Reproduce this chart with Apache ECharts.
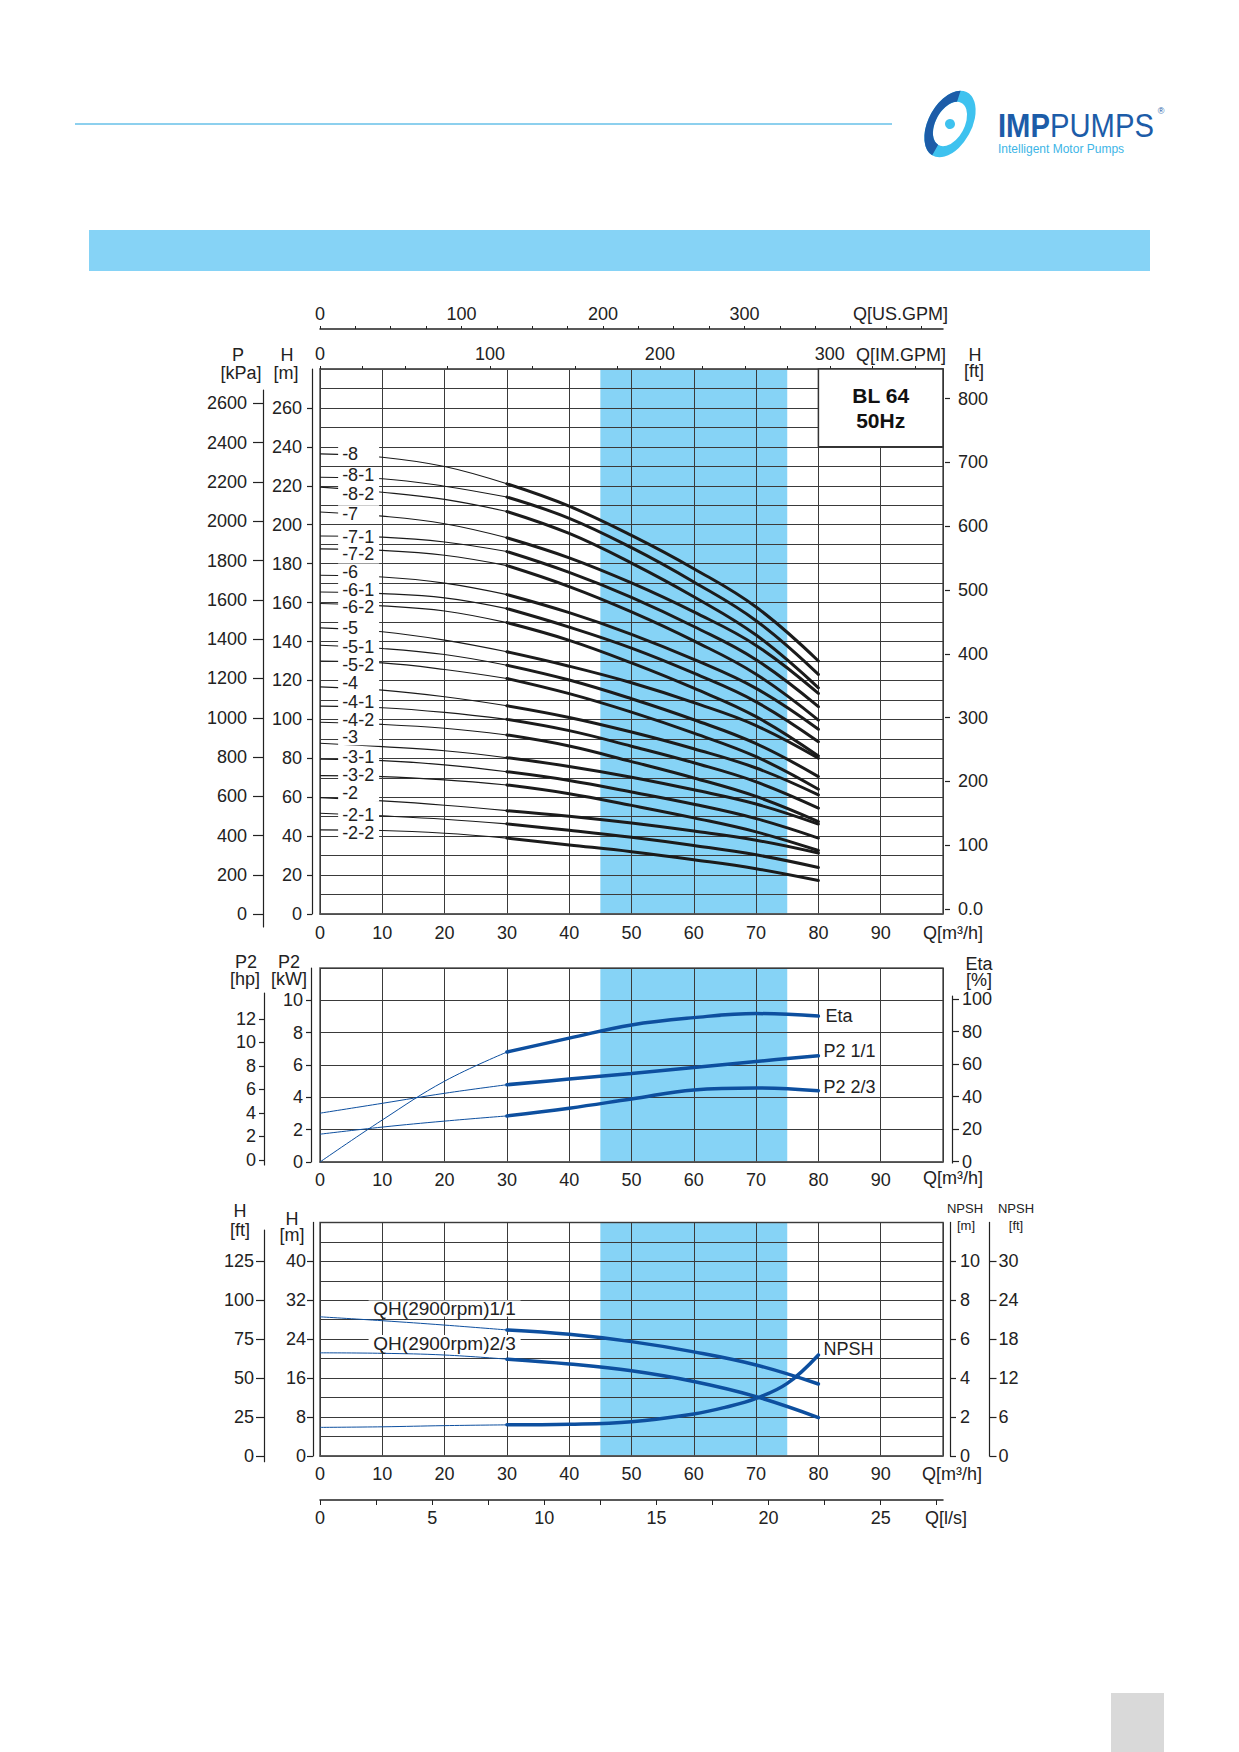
<!DOCTYPE html>
<html>
<head>
<meta charset="utf-8">
<title>BL 64 50Hz</title>
<script src="https://cdn.jsdelivr.net/npm/echarts@6/dist/echarts.min.js"></script>
<style>
html, body { margin: 0; padding: 0; background: #fff; }
#main { width: 1239px; height: 1752px; }
</style>
</head>
<body>
<div id="main"></div>
<script>
// flow points, m3/h
var qPoints = [0, 10, 20, 30, 40, 50, 60, 70, 80];
var qNpsh = [0, 10, 20, 30, 40, 50, 60, 65, 70, 75, 80];
var bandRange = [45, 75];

// head curves per model, m
var h8   = [236.4, 234.7, 229.9, 221.0, 209.5, 194.5, 177.4, 157.7, 130.0];
var h8_1 = [224.4, 223.6, 219.8, 214.2, 203.3, 188.2, 170.6, 150.7, 123.1];
var h8_2 = [219.3, 216.7, 213.0, 206.8, 195.5, 180.3, 163.0, 143.3, 116.2];
var h7   = [206.5, 204.4, 200.5, 193.3, 183.0, 170.1, 155.2, 138.0, 113.3];
var h7_1 = [194.2, 193.6, 191.1, 186.2, 175.5, 162.7, 147.7, 130.6, 106.5];
var h7_2 = [187.6, 186.8, 184.3, 179.0, 168.2, 155.2, 140.3, 123.2, 99.6];
var h6   = [174.0, 173.1, 170.0, 164.1, 154.8, 143.7, 130.8, 115.9, 94.9];
var h6_1 = [165.4, 164.6, 162.4, 156.9, 147.4, 136.6, 123.7, 109.0, 88.5];
var h6_2 = [159.5, 158.3, 155.7, 149.7, 140.6, 129.0, 116.0, 101.4, 81.2];
var h5   = [147.0, 145.0, 140.7, 134.7, 127.3, 118.8, 108.6, 96.8, 80.0];
var h5_1 = [138.1, 136.4, 133.3, 127.8, 120.2, 110.6, 99.8, 87.5, 70.6];
var h5_2 = [130.0, 129.0, 125.6, 121.0, 113.2, 103.7, 92.9, 80.8, 64.1];
var h4   = [116.7, 115.0, 111.6, 107.0, 101.0, 93.5, 84.9, 75.0, 61.2];
var h4_1 = [106.8, 106.0, 103.6, 100.0, 94.2, 86.2, 77.7, 67.9, 54.4];
var h4_2 = [98.5, 97.4, 95.4, 92.0, 86.3, 78.3, 69.9, 60.4, 47.5];
var h3   = [87.7, 86.0, 83.9, 80.3, 75.8, 70.3, 63.8, 56.5, 46.2];
var h3_1 = [79.5, 78.8, 76.6, 73.1, 68.6, 62.7, 56.4, 49.0, 39.0];
var h3_2 = [71.1, 70.6, 68.9, 66.3, 61.8, 55.8, 49.4, 42.2, 32.6];
var h2   = [59.8, 58.1, 55.9, 53.1, 50.2, 46.7, 42.6, 37.9, 31.3];
var h2_1 = [51.8, 50.4, 48.7, 46.3, 43.0, 39.4, 35.2, 30.4, 23.9];
var h2_2 = [43.2, 42.9, 41.5, 39.0, 35.5, 32.0, 27.9, 23.3, 17.2];

var stageNames = ['-8', '-8-1', '-8-2', '-7', '-7-1', '-7-2', '-6', '-6-1', '-6-2',
  '-5', '-5-1', '-5-2', '-4', '-4-1', '-4-2', '-3', '-3-1', '-3-2', '-2', '-2-1', '-2-2'];
var stageCurves = [h8, h8_1, h8_2, h7, h7_1, h7_2, h6, h6_1, h6_2,
  h5, h5_1, h5_2, h4, h4_1, h4_2, h3, h3_1, h3_2, h2, h2_1, h2_2];
// where each model tag sits on the H axis
var labelQ = 6.2;
var stageLabelH = [236.4, 225.3, 215.9, 205.6, 193.6, 185.1, 175.7, 166.7, 157.7,
  146.7, 137.2, 127.8, 118.5, 109.0, 99.6, 91.1, 80.8, 71.4, 62.1, 50.9, 41.5];

// power and efficiency
var eta = [0, 26, 50, 68, 76.6, 84.8, 89.3, 91.8, 90.3];
var p2Full = [3.02, 3.63, 4.25, 4.78, 5.13, 5.48, 5.85, 6.22, 6.57];
var p2TwoThird = [1.72, 2.16, 2.53, 2.85, 3.33, 3.9, 4.46, 4.58, 4.41];

// single stage head and NPSH
var qh11 = [28.6, 27.8, 26.9, 25.9, 25.0, 23.5, 21.4, 18.7, 14.8];
var qh23 = [21.2, 21.1, 20.75, 19.9, 18.9, 17.5, 15.3, 12.2, 7.9];
var npsh = [1.47, 1.5, 1.56, 1.6, 1.63, 1.76, 2.16, 2.5, 2.96, 3.73, 5.19];
var qhNames = ['QH(2900rpm)1/1', 'QH(2900rpm)2/3'];
var qhLabelAt = 2;

// tick values
var imTicks = [0, 25, 50, 75, 100, 125, 150, 175, 200, 225, 250, 275, 300, 325, 350];
var usTicks = [0, 25, 50, 75, 100, 125, 150, 175, 200, 225, 250, 275, 300, 325, 350, 375, 400, 425];
var gpmLabels = [0, 100, 200, 300];
var lsTicks = [0, 2.5, 5, 7.5, 10, 12.5, 15, 17.5, 20, 22.5, 25, 27.5];
var lsLabels = [0, 5, 10, 15, 20, 25];
var hTicks = [0, 20, 40, 60, 80, 100, 120, 140, 160, 180, 200, 220, 240, 260];
var kpaTicks = [0, 200, 400, 600, 800, 1000, 1200, 1400, 1600, 1800, 2000, 2200, 2400, 2600];
var ftTicks = [0, 100, 200, 300, 400, 500, 600, 700, 800];
var kwTicks = [0, 2, 4, 6, 8, 10];
var hpTicks = [0, 2, 4, 6, 8, 10, 12];
var etaTicks = [0, 20, 40, 60, 80, 100];
var hmTicks = [0, 8, 16, 24, 32, 40];
var hftTicks = [0, 25, 50, 75, 100, 125];
var npshMTicks = [0, 2, 4, 6, 8, 10];
var npshFtTicks = [0, 6, 12, 18, 24, 30];

var FONT = '"Liberation Sans", Arial, Helvetica, sans-serif';
var INK = '#222';
var GRIDLINE = '#3a3a3a';
var FRAME = '#555';
var BAND = '#86D3F6';
var BLACK = '#1b1b1b';
var BLUE = '#0d4f9f';

function pts(xs, ys, from, to) {
  var out = [];
  for (var i = from; i < to; i++) out.push([xs[i], ys[i]]);
  return out;
}

function curvePair(xs, ys, xi, yi, color, thinW, thickW) {
  var base = {
    type: 'line', xAxisIndex: xi, yAxisIndex: yi, smooth: 0.4,
    symbol: 'none', showSymbol: false, silent: true, animation: false, z: 3
  };
  var thin = Object.assign({}, base, { data: pts(xs, ys, 0, 4), lineStyle: { color: color, width: thinW } });
  var thick = Object.assign({}, base, { data: pts(xs, ys, 3, ys.length), lineStyle: { color: color, width: thickW, cap: 'round' } });
  return [thin, thick];
}

function band(xi, yi) {
  return {
    type: 'line', xAxisIndex: xi, yAxisIndex: yi, data: [], silent: true, z: 1,
    markArea: { silent: true, z: 1, itemStyle: { color: BAND }, data: [[{ xAxis: bandRange[0] }, { xAxis: bandRange[1] }]] }
  };
}

function label(extra) {
  return Object.assign({ fontSize: 18, color: INK, fontFamily: FONT }, extra || {});
}

function plain(v) { return String(v); }

function hiddenX(g) { return { gridIndex: g, type: 'value', show: false, min: 0, max: 1 }; }

function mainX(g, margin) {
  return {
    gridIndex: g, type: 'value', min: 0, max: 100, interval: 10, position: 'bottom', z: 2,
    axisLine: { show: true, onZero: false, lineStyle: { color: FRAME, width: 1.5 } },
    axisTick: { show: false },
    axisLabel: label({ margin: margin, formatter: function (v) { return v < 100 ? String(v) : ''; } }),
    splitLine: { show: true, lineStyle: { color: GRIDLINE, width: 1 } }
  };
}

function extraX(g, pos, offset, max, ticks, labels, tickLen, margin, color) {
  return {
    gridIndex: g, type: 'value', position: pos, offset: offset, min: 0, max: max, z: 2,
    axisLine: { show: true, onZero: false, lineStyle: { color: color, width: 1.5 } },
    axisTick: { show: true, length: tickLen, customValues: ticks, lineStyle: { color: INK } },
    axisLabel: label({ margin: margin, customValues: labels, formatter: plain }),
    splitLine: { show: false }
  };
}

function sideY(g, pos, offset, min, max, ticks, tickLen, margin, fmt, lineColor) {
  return {
    gridIndex: g, type: 'value', position: pos, offset: offset, min: min, max: max,
    axisLine: { show: true, onZero: false, lineStyle: { color: lineColor || INK, width: 1.2 } },
    axisTick: { show: true, length: tickLen, customValues: ticks, lineStyle: { color: INK, width: 1.2 } },
    axisLabel: label({ margin: margin, customValues: ticks, formatter: fmt || plain }),
    splitLine: { show: false }
  };
}

function gridY(g, max, step) {
  return {
    gridIndex: g, type: 'value', min: 0, max: max, interval: step, z: 2,
    axisLine: { show: false }, axisTick: { show: false }, axisLabel: { show: false },
    splitLine: { show: true, lineStyle: { color: GRIDLINE, width: 1 } }
  };
}

// white tag box drawn as a rect symbol, text on top of it
function tagSeries(xi, yi, data, boxSize, pos, fontSize) {
  return {
    type: 'scatter', xAxisIndex: xi, yAxisIndex: yi, silent: true, z: 10, animation: false,
    symbol: 'rect', symbolSize: boxSize,
    itemStyle: { color: '#fff', opacity: 1 },
    data: data,
    label: {
      show: true, position: pos, distance: 4, formatter: '{b}', lineHeight: 17,
      color: INK, fontSize: fontSize, fontFamily: FONT, textBorderWidth: 0, opacity: 1
    }
  };
}

var series = [];

// head chart
series.push(band(0, 0));
series.push({
  type: 'line', xAxisIndex: 0, yAxisIndex: 0, data: [], silent: true, z: 4,
  markArea: {
    silent: true, z: 4,
    itemStyle: { color: '#fff', borderColor: '#333', borderWidth: 1.5 },
    label: { show: true, position: 'inside', formatter: 'BL 64\n50Hz', fontSize: 21, fontWeight: 'bold', lineHeight: 25, color: '#111', fontFamily: FONT },
    data: [[{ xAxis: 80, yAxis: 240 }, { xAxis: 100, yAxis: 280 }]]
  }
});
stageCurves.forEach(function (ys) {
  series = series.concat(curvePair(qPoints, ys, 0, 0, BLACK, 1.1, 3));
});
series.push(tagSeries(0, 0,
  stageNames.map(function (n, i) { return { name: n, value: [labelQ, stageLabelH[i]] }; }),
  [41, 17], 'insideLeft', 18));

// power chart
series.push(band(4, 4));
var etaPair = curvePair(qPoints, eta, 4, 6, BLUE, 1, 3.5);
etaPair[1].endLabel = label({ show: true, formatter: 'Eta', distance: 7 });
var p2fPair = curvePair(qPoints, p2Full, 4, 4, BLUE, 1, 3.5);
p2fPair[1].endLabel = label({ show: true, formatter: 'P2 1/1', distance: 5, offset: [0, -5] });
var p2tPair = curvePair(qPoints, p2TwoThird, 4, 4, BLUE, 1, 3.5);
p2tPair[1].endLabel = label({ show: true, formatter: 'P2 2/3', distance: 5, offset: [0, -4] });
series = series.concat(etaPair, p2fPair, p2tPair);

// single stage chart
series.push(band(7, 9));
series = series.concat(
  curvePair(qPoints, qh11, 7, 9, BLUE, 1, 3.5),
  curvePair(qPoints, qh23, 7, 9, BLUE, 1, 3.5)
);
var npshPair = curvePair(qNpsh, npsh, 7, 11, BLUE, 1, 3.5);
npshPair[1].endLabel = label({ show: true, formatter: 'NPSH', distance: 5, offset: [0, -6] });
series = series.concat(npshPair);
series.push(tagSeries(7, 9, [
  { name: qhNames[0], value: [qPoints[qhLabelAt], qh11[qhLabelAt]], symbolOffset: [0, -16.5] },
  { name: qhNames[1], value: [qPoints[qhLabelAt], qh23[qhLabelAt]], symbolOffset: [0, -12] }
], [152, 16], 'inside', 19));

var mainGrid = { show: true, z: 2, borderColor: FRAME, borderWidth: 1.5, backgroundColor: 'transparent', outerBoundsMode: 'none' };
var sideGrid = { show: false, outerBoundsMode: 'none' };

function txt(text, x, y, size, align, extra) {
  return {
    type: 'text', silent: true, z: 20,
    style: Object.assign({
      text: text, x: x, y: y, fill: INK, font: size + 'px ' + FONT,
      align: align || 'center', textAlign: align || 'center', verticalAlign: 'middle', textVerticalAlign: 'middle'
    }, extra || {})
  };
}

var graphic = [
  { type: 'line', silent: true, shape: { x1: 75, y1: 124, x2: 892, y2: 124 }, style: { stroke: '#8DD0EE', lineWidth: 2 } },
  { type: 'rect', silent: true, shape: { x: 89, y: 230, width: 1061, height: 41 }, style: { fill: BAND } },
  { type: 'rect', silent: true, shape: { x: 1111, y: 1693, width: 53, height: 59 }, style: { fill: '#D9D9D9' } },
  {
    type: 'group', x: 950, y: 124, rotation: -0.5, silent: true,
    children: [
      { type: 'circle', shape: { cx: 0, cy: 0, r: 30 }, scaleX: 0.6, style: { fill: 'none', stroke: '#3EC2EF', lineWidth: 12 } },
      { type: 'arc', shape: { cx: 0, cy: 0, r: 30, startAngle: 1.6, endAngle: 4.4 }, scaleX: 0.6, style: { fill: 'none', stroke: '#1C5CA8', lineWidth: 12 } },
      { type: 'circle', shape: { cx: 0, cy: 0, r: 5 }, style: { fill: '#3EC2EF' } }
    ]
  },
  {
    type: 'text', silent: true, x: 998, y: 125, scaleX: 0.86,
    style: {
      text: '{a|IMP}{b|PUMPS}', x: 0, y: 0, verticalAlign: 'middle', textVerticalAlign: 'middle',
      rich: {
        a: { font: 'bold 34px ' + FONT, fill: '#1C5CA8' },
        b: { font: '34px ' + FONT, fill: '#1C5CA8' }
      }
    }
  },
  txt('®', 1161, 111, 9, 'center', { fill: '#1C5CA8' }),
  txt('Intelligent Motor Pumps', 998, 149, 12, 'left', { fill: '#3DB5E6' }),

  // head chart axis names
  txt('Q[US.GPM]', 853, 314, 18, 'left'),
  txt('P', 238, 355, 18), txt('[kPa]', 241, 373, 18),
  txt('H', 287, 355, 18), txt('[m]', 286, 373, 18),
  txt('Q[IM.GPM]', 856, 355, 18, 'left'),
  txt('H', 975, 355, 18), txt('[ft]', 974, 371, 18),
  txt('Q[m³/h]', 923, 933, 18, 'left'),

  // power chart axis names
  txt('P2', 246, 962, 18), txt('[hp]', 245, 979, 18),
  txt('P2', 289, 962, 18), txt('[kW]', 289, 979, 18),
  txt('Eta', 979, 964, 18), txt('[%]', 979, 980, 18),
  txt('Q[m³/h]', 923, 1178, 18, 'left'),

  // single stage chart axis names
  txt('H', 240, 1211, 18), txt('[ft]', 240, 1230, 18),
  txt('H', 292, 1219, 18), txt('[m]', 292, 1235, 18),
  txt('NPSH', 965, 1208, 13), txt('[m]', 966, 1225, 13),
  txt('NPSH', 1016, 1208, 13), txt('[ft]', 1016, 1225, 13),
  txt('Q[m³/h]', 922, 1474, 18, 'left'),
  txt('Q[l/s]', 925, 1518, 18, 'left')
];

var chart = echarts.init(document.getElementById('main'), null, { renderer: 'svg', width: 1239, height: 1752 });

var option = {
  animation: false,
  backgroundColor: '#fff',
  textStyle: { fontFamily: FONT },
  grid: [
    Object.assign({ left: 320, top: 369, width: 623, height: 545 }, mainGrid),   // 0 head
    Object.assign({ left: 263, top: 390, width: 10, height: 537 }, sideGrid),    // 1 kPa
    Object.assign({ left: 320, top: 968, width: 623, height: 194 }, mainGrid),   // 2 power
    Object.assign({ left: 264, top: 993, width: 10, height: 172 }, sideGrid),    // 3 hp
    Object.assign({ left: 942, top: 996, width: 10, height: 167 }, sideGrid),    // 4 eta
    Object.assign({ left: 320, top: 1222.4, width: 623, height: 233.6 }, mainGrid), // 5 single stage
    Object.assign({ left: 264, top: 1230, width: 10, height: 231.7 }, sideGrid)  // 6 H ft
  ],
  xAxis: [
    mainX(0, 10),
    extraX(0, 'top', 0, 366.6, imTicks, gpmLabels, 3, 6, FRAME),
    extraX(0, 'top', 40, 440.3, usTicks, gpmLabels, 3, 6, INK),
    hiddenX(1),
    mainX(2, 9),
    hiddenX(3),
    hiddenX(4),
    mainX(5, 9),
    extraX(5, 'bottom', 44, 27.78, lsTicks, lsLabels, 5, 9, INK),
    hiddenX(6)
  ],
  yAxis: [
    gridY(0, 280, 10),                                                                  // 0
    sideY(0, 'left', 8, 0, 280, hTicks, 5, 10),                                         // 1 H m
    sideY(0, 'right', 2, -7.85, 846.3, ftTicks, 5, 13, function (v) { return v === 0 ? '0.0' : String(v); }, 'rgba(0,0,0,0)'), // 2 H ft
    sideY(1, 'left', 0, -64.6, 2667.6, kpaTicks, 10, 16),                               // 3 kPa
    gridY(2, 12, 2),                                                                    // 4 kW
    sideY(2, 'left', 9, 0, 12, kwTicks, 5, 8),                                          // 5 kW labels
    { gridIndex: 2, type: 'value', position: 'right', min: 0, max: 120, show: false },  // 6 eta plot
    sideY(3, 'left', 0, -0.43, 14.21, hpTicks, 5, 8),                                   // 7 hp
    sideY(4, 'right', 0, -0.8, 102, etaTicks, 7, 10),                                   // 8 eta labels
    gridY(5, 48, 4),                                                                    // 9 H single
    sideY(5, 'left', 7, 0, 48, hmTicks, 6, 7),                                          // 10 H m labels
    sideY(5, 'right', 7, 0, 12, npshMTicks, 6, 10),                                     // 11 NPSH m
    sideY(5, 'right', 46.5, 0, 36, npshFtTicks, 7, 9),                                  // 12 NPSH ft
    sideY(6, 'left', 0, -3.66, 145.1, hftTicks, 8, 10)                                  // 13 H ft
  ],
  graphic: graphic,
  series: series
};

chart.setOption(option);
</script>
</body>
</html>
